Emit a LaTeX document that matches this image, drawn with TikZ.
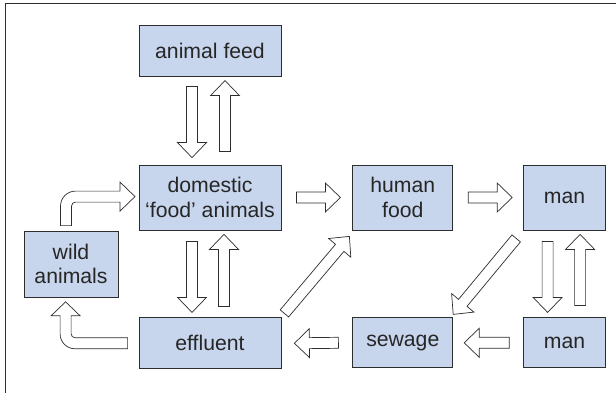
\documentclass[tikz,border=0pt]{standalone}
\usepackage{fontspec}
\setmainfont{Liberation Sans}
\usetikzlibrary{positioning,calc}
\definecolor{boxblue}{RGB}{199,213,237}
\definecolor{edgegray}{RGB}{45,45,45}

% straight block arrow from #1 to #2
\newcommand{\fatarrow}[2]{%
  \coordinate (fa-s) at (#1);
  \coordinate (fa-e) at (#2);
  \coordinate (fa-h) at ($(fa-e)!15pt!(fa-s)$);
  \draw[blockarrow] ($(fa-s)!5.5pt!90:(fa-e)$) -- ($(fa-h)!5.5pt!-90:(fa-s)$)
    -- ($(fa-h)!14.5pt!-90:(fa-s)$) -- (fa-e) -- ($(fa-h)!14.5pt!90:(fa-s)$)
    -- ($(fa-h)!5.5pt!90:(fa-s)$) -- ($(fa-s)!5.5pt!-90:(fa-e)$) -- cycle;}

\begin{document}
\begin{tikzpicture}[x=1pt,y=-1pt,node distance=87pt,
    box/.style={draw=edgegray,line width=0.8pt,fill=boxblue,inner sep=0pt,
      align=center,text=black!85,font=\fontsize{21.2pt}{24.5pt}\selectfont},
    blockarrow/.style={draw=edgegray,line width=0.7pt,fill=white,line join=miter}]
  \useasboundingbox (0,0) rectangle (616,393);
  \draw[edgegray,line width=0.9pt] (616,3) -- (5,3) -- (5,393);

  \node[box,minimum width=142pt,minimum height=65pt] (dom) at (210,197.5) {domestic\\‘food’ animals};
  \node[box,minimum width=142pt,minimum height=51pt] (feed) [above=88pt of dom] {animal feed};
  \node[box,minimum width=100pt,minimum height=65pt] (hfood) [right=71pt of dom] {human\\food};
  \node[box,minimum width=82pt,minimum height=65pt]  (man1) [right=70pt of hfood] {man};
  \node[box,minimum width=142pt,minimum height=51pt] (eff) [below=87pt of dom] {effluent};
  \node[box,minimum width=100pt,minimum height=50pt] (sew) [below=87pt of hfood] {sewage};
  \node[box,minimum width=82pt,minimum height=50pt]  (man2) [below=87pt of man1] {man};
  \node[box,minimum width=94pt,minimum height=66pt]  (wild) at (71,264) {wild\\animals};

  \fatarrow{$(feed.south)+(-18,10)$}{$(dom.north)+(-18,-7)$}
  \fatarrow{$(dom.north)+(15,-13)$}{$(feed.south)+(15,4)$}
  \fatarrow{$(dom.south)+(-18,11)$}{$(eff.north)+(-18,-5)$}
  \fatarrow{$(eff.north)+(14,-11)$}{$(dom.south)+(14,4)$}
  \fatarrow{$(man1.south)+(-17,11)$}{$(man2.north)+(-17,-5)$}
  \fatarrow{$(man2.north)+(15.5,-12)$}{$(man1.south)+(15.5,4)$}
  \fatarrow{$(dom.east)+(15,0)$}{$(hfood.west)+(-12,0)$}
  \fatarrow{$(hfood.east)+(15,0)$}{$(man1.west)+(-11,0)$}
  \fatarrow{$(man2.west)+(-14,0)$}{$(sew.east)+(11,0)$}
  \fatarrow{$(sew.west)+(-14,0)$}{$(eff.east)+(13,0)$}
  \fatarrow{$(eff.north east)+(3,-4)$}{$(hfood.south west)+(-3,6)$}
  \fatarrow{$(man1.south west)+(-7,8)$}{$(sew.north east)+(0,-3)$}

  % bent arrows round wild animals
  \coordinate (wup) at ($(wild.north)+(-5,-5)$);
  \draw[blockarrow,shift={(wup)}] (-5.5,0) -- (-5.5,-19.5)
    .. controls (-5.5,-27.8) and (1.2,-34.5) .. (9.5,-34.5) -- (54,-34.5)
    -- (54,-43.5) -- (69,-29) -- (54,-14.5) -- (54,-23.5) -- (9.5,-23.5)
    .. controls (7.3,-23.5) and (5.5,-21.7) .. (5.5,-19.5) -- (5.5,0) -- cycle;
  \coordinate (wdown) at ($(eff.west)+(-11,0)$);
  \draw[blockarrow,shift={(wdown)}] (0,-5.5) -- (-52.5,-5.5)
    .. controls (-54.7,-5.5) and (-56.5,-7.3) .. (-56.5,-9.5) -- (-56.5,-27.5)
    -- (-47.5,-27.5) -- (-62,-41.5) -- (-76.5,-27.5) -- (-67.5,-27.5) -- (-67.5,-9.5)
    .. controls (-67.5,-1.2) and (-60.8,5.5) .. (-52.5,5.5) -- (0,5.5) -- cycle;
\end{tikzpicture}
\end{document}
